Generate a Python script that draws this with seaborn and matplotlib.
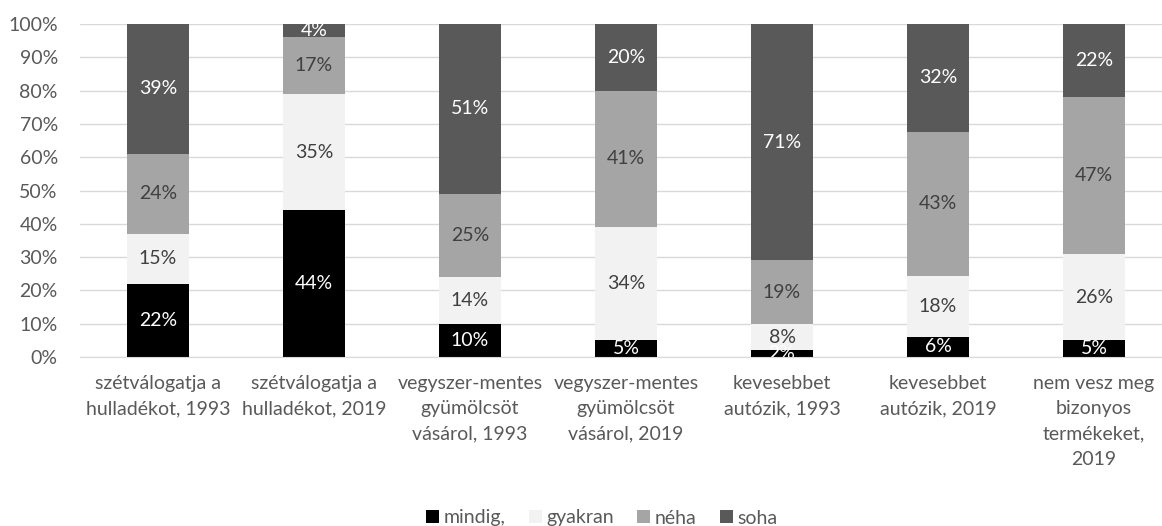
import matplotlib
matplotlib.use("Agg")
import matplotlib.pyplot as plt
from matplotlib.patches import Patch
import seaborn as sns
import numpy as np

categories = [
    "szétválogatja a\nhulladékot, 1993",
    "szétválogatja a\nhulladékot, 2019",
    "vegyszer-mentes\ngyümölcsöt\nvásárol, 1993",
    "vegyszer-mentes\ngyümölcsöt\nvásárol, 2019",
    "kevesebbet\nautózik, 1993",
    "kevesebbet\nautózik, 2019",
    "nem vesz meg\nbizonyos\ntermékeket,\n2019",
]
series_names = ["mindig,", "gyakran", "néha", "soha"]
mindig = [22, 44, 10, 5, 2, 6, 5]
gyakran = [15, 35, 14, 34, 8, 18, 26]
neha = [24, 17, 25, 41, 19, 43, 47]
soha = [39, 4, 51, 20, 71, 32, 22]

colors = ["#000000", "#f2f2f2", "#a5a5a5", "#595959"]
label_colors = ["white", "#404040", "#404040", "white"]
text_grey = "#595959"

sns.set_style("white")
plt.rcParams['font.family'] = ['Lato', 'DejaVu Sans']

fig = plt.figure(figsize=(11.62, 5.26), dpi=100)
ax = fig.add_axes([80 / 1162, (526 - 357) / 526, 1092 / 1162, 333 / 526])

# 100% stacked: each bar normalised to its own total
totals = np.array(mindig) + np.array(gyakran) + np.array(neha) + np.array(soha)
bottom = np.zeros(len(categories))
for vals, col, lc in zip([mindig, gyakran, neha, soha], colors, label_colors):
    raw = np.array(vals, dtype=float)
    h = raw / totals * 100
    sns.barplot(x=categories, y=h, bottom=bottom, color=col, width=0.4,
                saturation=1, ax=ax, zorder=2, linewidth=0)
    for i, v in enumerate(raw):
        ax.text(i, bottom[i] + h[i] / 2, f"{int(v)}%", ha="center", va="center",
                color=lc, fontsize=14, zorder=3, clip_on=True)
    bottom += h

ax.set_ylim(0, 100)
ax.set_xlim(-0.5, 6.5)
ax.set_yticks(range(0, 101, 10))
ax.set_yticklabels([f"{t}%" for t in range(0, 101, 10)])
ax.yaxis.grid(True, color="#d9d9d9", linewidth=1, zorder=0)
ax.set_axisbelow(True)
for s in ["top", "right", "left"]:
    ax.spines[s].set_visible(False)
ax.spines["bottom"].set_color("#d9d9d9")
ax.tick_params(axis="both", length=0, colors=text_grey, labelsize=14)
ax.tick_params(axis="y", pad=16)
ax.tick_params(axis="x", pad=13)
for lbl in ax.get_xticklabels():
    lbl.set_linespacing(1.6)

handles = [Patch(facecolor=c, edgecolor="none", label=n) for c, n in zip(colors, series_names)]
leg = fig.legend(handles=handles, loc="center", bbox_to_anchor=(602 / 1162, 8 / 526),
                 ncol=4, frameon=False, fontsize=14, handlelength=0.65, handleheight=0.65,
                 handletextpad=0.25, columnspacing=1.2)
for t in leg.get_texts():
    t.set_color(text_grey)

fig.savefig("out.png", dpi=100)
